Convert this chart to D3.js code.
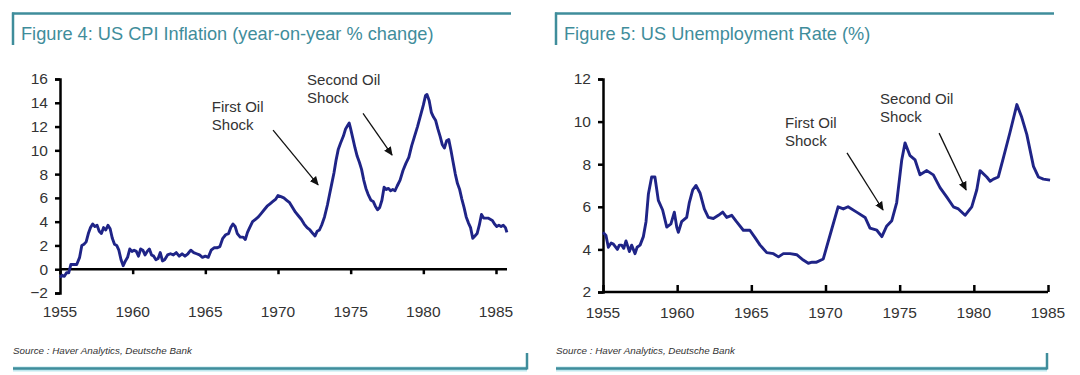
<!DOCTYPE html>
<html><head><meta charset="utf-8">
<script src="https://cdn.jsdelivr.net/npm/d3@7"></script>
<style>
html,body{margin:0;padding:0;background:#fff;}
svg{display:block;}
text{font-family:"Liberation Sans",Arial,sans-serif;}
</style></head>
<body>
<svg id="c" width="1080" height="375"></svg>
<script>
// ---------- DATA ----------
const cpiYears = [1955.00,1955.15,1955.30,1955.45,1955.60,1955.75,1955.95,1956.15,1956.35,1956.50,1956.65,1956.80,1956.95,1957.10,1957.25,1957.40,1957.55,1957.70,1957.85,1958.00,1958.15,1958.30,1958.45,1958.60,1958.75,1958.90,1959.05,1959.20,1959.35,1959.50,1959.65,1959.80,1959.95,1960.10,1960.25,1960.40,1960.55,1960.70,1960.85,1961.00,1961.15,1961.30,1961.45,1961.60,1961.75,1961.90,1962.05,1962.20,1962.40,1962.60,1962.80,1963.00,1963.20,1963.40,1963.60,1963.80,1964.00,1964.20,1964.40,1964.60,1964.80,1965.00,1965.20,1965.40,1965.60,1965.80,1966.00,1966.20,1966.40,1966.60,1966.75,1966.90,1967.05,1967.20,1967.40,1967.60,1967.75,1967.90,1968.05,1968.25,1968.45,1968.65,1968.85,1969.05,1969.25,1969.45,1969.65,1969.85,1970.00,1970.20,1970.40,1970.60,1970.80,1971.00,1971.20,1971.40,1971.60,1971.80,1972.00,1972.20,1972.40,1972.55,1972.70,1972.85,1973.00,1973.20,1973.40,1973.55,1973.70,1973.85,1974.00,1974.15,1974.30,1974.50,1974.65,1974.80,1974.90,1975.00,1975.15,1975.30,1975.45,1975.60,1975.75,1975.90,1976.05,1976.20,1976.40,1976.55,1976.70,1976.85,1977.00,1977.15,1977.30,1977.45,1977.60,1977.75,1977.90,1978.05,1978.20,1978.40,1978.60,1978.80,1979.00,1979.20,1979.40,1979.60,1979.80,1980.00,1980.15,1980.25,1980.40,1980.55,1980.70,1980.85,1981.00,1981.15,1981.30,1981.45,1981.60,1981.75,1981.90,1982.05,1982.20,1982.35,1982.50,1982.65,1982.80,1982.95,1983.10,1983.25,1983.40,1983.55,1983.70,1983.85,1984.00,1984.15,1984.30,1984.45,1984.60,1984.75,1984.90,1985.05,1985.20,1985.35,1985.50,1985.65,1985.75];
const cpiValues = [-0.7,-0.5,-0.6,-0.3,-0.3,0.4,0.4,0.4,1.0,2.0,2.1,2.3,3.0,3.5,3.8,3.6,3.7,3.2,3.0,3.5,3.3,3.7,3.4,2.6,2.1,2.0,1.6,0.8,0.3,0.7,1.0,1.7,1.5,1.6,1.5,1.1,1.7,1.6,1.2,1.5,1.7,1.2,1.1,0.8,0.9,1.4,0.7,0.8,1.2,1.3,1.2,1.4,1.1,1.3,1.1,1.3,1.6,1.4,1.3,1.2,1.0,1.1,1.0,1.6,1.8,1.8,1.9,2.6,2.9,3.0,3.5,3.8,3.6,3.0,2.7,2.7,2.5,3.1,3.5,4.0,4.2,4.4,4.7,5.0,5.3,5.5,5.7,5.9,6.2,6.1,6.0,5.8,5.6,5.2,4.8,4.5,4.2,3.8,3.5,3.3,3.0,2.8,3.2,3.3,3.7,4.4,5.4,6.3,7.2,8.1,9.2,10.1,10.6,11.2,11.8,12.1,12.3,11.8,11.0,10.2,9.5,9.0,8.4,7.5,6.8,6.3,5.8,5.7,5.3,5.0,5.2,5.8,6.9,6.7,6.8,6.6,6.7,6.6,7.0,7.5,8.3,8.9,9.4,10.4,11.2,12.0,12.9,13.8,14.6,14.7,14.2,13.2,12.8,12.5,11.8,11.2,10.5,10.2,10.8,10.9,10.0,9.0,8.0,7.2,6.7,5.9,5.2,4.4,3.9,3.5,2.6,2.8,3.0,3.7,4.6,4.3,4.3,4.3,4.2,4.1,3.8,3.6,3.7,3.6,3.7,3.5,3.1];

const unYears = [1955.00,1955.20,1955.36,1955.55,1955.70,1955.97,1956.10,1956.26,1956.40,1956.55,1956.78,1956.93,1957.16,1957.30,1957.50,1957.72,1957.90,1958.06,1958.28,1958.50,1958.73,1959.02,1959.30,1959.58,1959.81,1959.97,1960.08,1960.30,1960.64,1960.82,1961.05,1961.27,1961.54,1961.83,1962.10,1962.44,1962.78,1963.07,1963.34,1963.68,1964.00,1964.46,1964.90,1965.25,1965.59,1966.04,1966.49,1966.83,1967.16,1967.61,1968.06,1968.50,1968.84,1969.10,1969.40,1969.85,1970.07,1970.40,1970.85,1971.20,1971.52,1972.10,1972.67,1973.00,1973.46,1973.80,1974.13,1974.47,1974.80,1975.14,1975.36,1975.70,1976.04,1976.37,1976.83,1977.27,1977.72,1978.18,1978.62,1978.96,1979.41,1979.86,1980.20,1980.42,1980.87,1981.10,1981.32,1981.65,1981.99,1982.44,1982.90,1983.23,1983.57,1984.02,1984.35,1984.69,1985.14];
const unValues = [4.8,4.65,4.1,4.3,4.25,4.0,4.2,4.2,4.05,4.4,3.9,4.2,3.8,4.1,4.2,4.6,5.3,6.6,7.4,7.4,6.3,5.85,5.05,5.2,5.75,5.05,4.8,5.3,5.5,6.2,6.8,7.0,6.65,5.9,5.5,5.45,5.6,5.75,5.5,5.6,5.3,4.9,4.9,4.55,4.2,3.85,3.8,3.65,3.8,3.8,3.75,3.5,3.35,3.4,3.4,3.55,4.1,4.9,6.0,5.9,6.0,5.75,5.5,5.0,4.9,4.6,5.1,5.35,6.2,8.2,9.0,8.4,8.2,7.5,7.7,7.5,6.9,6.45,6.0,5.9,5.6,6.0,6.8,7.7,7.4,7.2,7.3,7.4,8.3,9.5,10.8,10.2,9.4,7.9,7.4,7.3,7.25];

const xTicks = [1955,1960,1965,1970,1975,1980,1985];
const cpiYTicks = [-2,0,2,4,6,8,10,12,14,16];
const unYTicks = [2,4,6,8,10,12];

const titles = ["Figure 4: US CPI Inflation (year-on-year % change)","Figure 5: US Unemployment Rate (%)"];
const sourceText = "Source : Haver Analytics, Deutsche Bank";

// annotations (data coordinates)
const cpiNotes = [
  {lines:["First Oil","Shock"], x:1965.45, y:13.2, ay1:[1969.66,11.7], ay2:[1972.76,7.1]},
  {lines:["Second Oil","Shock"], x:1972.0, y:15.5, ay1:[1975.85,13.1], ay2:[1977.85,9.6]}
];
const unNotes = [
  {lines:["First Oil","Shock"], x:1967.27, y:9.7, ay1:[1971.45,8.53], ay2:[1973.88,5.85]},
  {lines:["Second Oil","Shock"], x:1973.68, y:10.83, ay1:[1977.66,9.46], ay2:[1979.48,6.79]}
];

// ---------- DRAW ----------
const svg = d3.select("#c");
const teal = "#3f8d9b";
const lineColor = "#1f2487";
const textColor = "#333";

svg.append("defs").append("marker")
  .attr("id","arr").attr("viewBox","0 0 10 10").attr("refX",9).attr("refY",5)
  .attr("markerWidth",9).attr("markerHeight",9).attr("markerUnits","userSpaceOnUse")
  .attr("orient","auto")
  .append("path").attr("d","M0,0.5 L10,5 L0,9.5 Z").attr("fill","#111");

function frame(x0, x1, title, bx1){
  svg.append("line").attr("x1",x0).attr("x2",x1).attr("y1",13.5).attr("y2",13.5)
    .attr("stroke",teal).attr("stroke-width",2.5);
  svg.append("line").attr("x1",x0+1).attr("x2",x0+1).attr("y1",12.5).attr("y2",45)
    .attr("stroke",teal).attr("stroke-width",2.5);
  svg.append("text").attr("x",x0+9).attr("y",40).attr("fill",teal)
    .attr("font-size","18.2px").attr("font-family","'Noto Sans',sans-serif").text(title);
  svg.append("line").attr("x1",x0+1).attr("x2",bx1).attr("y1",369).attr("y2",369)
    .attr("stroke","#bfe8ee").attr("stroke-width",5);
  svg.append("line").attr("x1",x0+1).attr("x2",bx1).attr("y1",368.5).attr("y2",368.5)
    .attr("stroke",teal).attr("stroke-width",2.5);
  svg.append("line").attr("x1",bx1).attr("x2",bx1).attr("y1",353).attr("y2",369.5)
    .attr("stroke",teal).attr("stroke-width",2.5);
  svg.append("text").attr("x",x0+1).attr("y",354).attr("fill","#333")
    .attr("font-size","9.8px").attr("font-style","italic").text(sourceText);
}
frame(12, 511, titles[0], 527);
frame(555, 1054, titles[1], 1047);

function chart(opt){
  const x = d3.scaleLinear().domain(opt.xDomain).range(opt.xRange);
  const y = d3.scaleLinear().domain(opt.yDomain).range(opt.yRange);
  const g = svg.append("g");

  const ya = g.append("g").attr("transform",`translate(${opt.xRange[0]},0)`)
    .call(d3.axisLeft(y).tickValues(opt.yTicks).tickSize(5).tickPadding(7).tickFormat(d3.format("d")));
  ya.select(".domain").attr("stroke","#000").attr("stroke-width",2.5);
  ya.selectAll(".tick line").attr("stroke","#000").attr("stroke-width",2.5);
  ya.selectAll(".tick text").attr("font-size","15.5px").attr("fill",textColor)
    .attr("font-family","'Liberation Sans',Arial,sans-serif");

  const xa = g.append("g").attr("transform",`translate(0,${y(opt.xAxisAt)})`)
    .call(d3.axisBottom(x).tickValues(xTicks).tickSize(opt.xTickSize).tickPadding(0).tickFormat(""));
  xa.select(".domain").attr("stroke","#000").attr("stroke-width",2.5)
    .attr("d",`M${opt.xRange[0]},0H${opt.xEnd}`);
  xa.selectAll(".tick line").attr("stroke","#000").attr("stroke-width",2.5);

  g.selectAll(".xl").data(xTicks).enter().append("text")
    .attr("x",d=>x(d)).attr("y",opt.labelY).attr("text-anchor","middle")
    .attr("font-size","15.5px").attr("fill",textColor).text(d=>d);

  const pts = opt.years.map((yr,i)=>[yr,opt.values[i]]);
  g.append("path").datum(pts)
    .attr("d",d3.line().x(d=>x(d[0])).y(d=>y(d[1])))
    .attr("fill","none").attr("stroke",lineColor).attr("stroke-width",2.9)
    .attr("stroke-linejoin","round");

  opt.notes.forEach(n=>{
    const t = g.append("text").attr("x",x(n.x)).attr("y",y(n.y))
      .attr("font-size","15px").attr("fill",textColor);
    n.lines.forEach((l,i)=>t.append("tspan").attr("x",x(n.x)).attr("dy",i?18:0).text(l));
    g.append("line").attr("x1",x(n.ay1[0])).attr("y1",y(n.ay1[1]))
      .attr("x2",x(n.ay2[0])).attr("y2",y(n.ay2[1]))
      .attr("stroke","#111").attr("stroke-width",1.3).attr("marker-end","url(#arr)");
  });
}

chart({xDomain:[1955,1985], xRange:[60,496], xEnd:507, yDomain:[-2,16], yRange:[293,79],
  yTicks:cpiYTicks, xAxisAt:0, xTickSize:5, labelY:317, years:cpiYears, values:cpiValues, notes:cpiNotes});
chart({xDomain:[1955,1985], xRange:[603,1048], xEnd:1048, yDomain:[2,12], yRange:[292,79],
  yTicks:unYTicks, xAxisAt:2, xTickSize:-7, labelY:318, years:unYears, values:unValues, notes:unNotes});
</script>
</body></html>
